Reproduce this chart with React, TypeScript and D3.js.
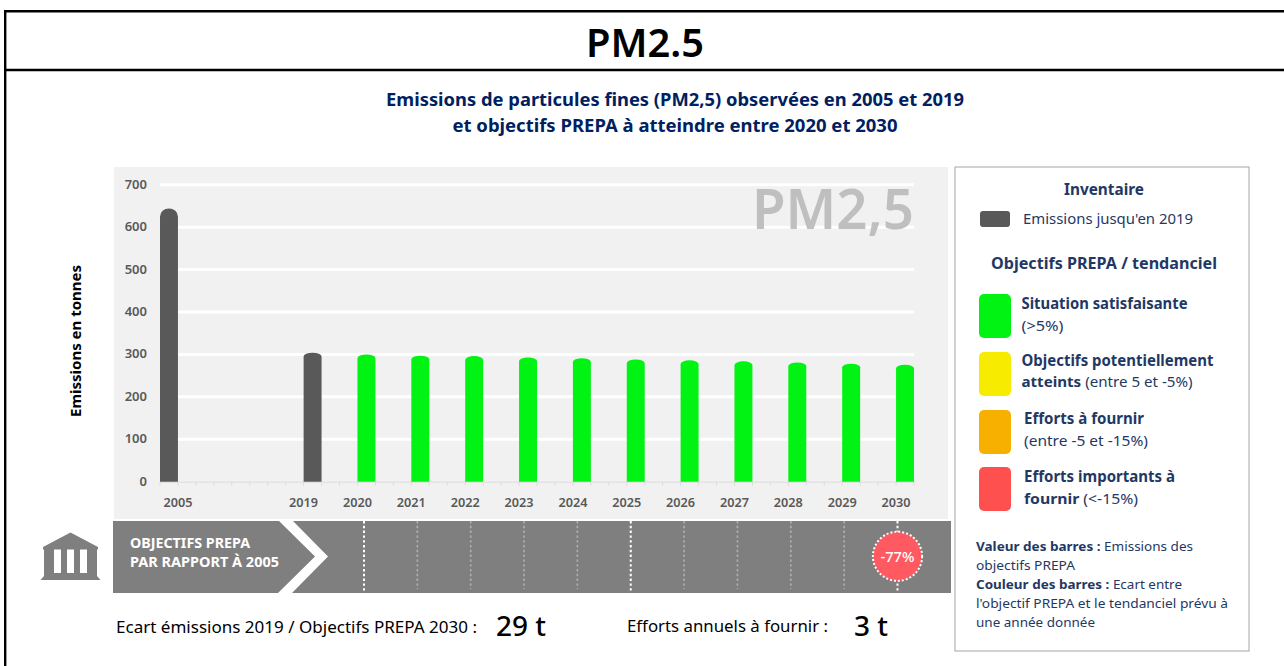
import React from 'react';
import * as d3 from 'd3';

const years = ['2005','2019','2020','2021','2022','2023','2024','2025','2026','2027','2028','2029','2030'];
const values = [644,304,300,297,296,293,291,288,286,283.6,281,278,275.6];
const barColors = ['#595959','#595959','#00f312','#00f312','#00f312','#00f312','#00f312','#00f312','#00f312','#00f312','#00f312','#00f312','#00f312'];
const slotsBefore = [0,7,2,2,2,2,2,2,2,2,2,2,2];
const yTicks = [0,100,200,300,400,500,600,700];
const ribbonYears = [2020,2021,2022,2023,2024,2025,2026,2027,2028,2029,2030];
const strongRibbonYears = [2020,2025,2030];
const NAVY = '#1f3864';
const FONT = '"Noto Sans", "Open Sans", sans-serif';

const legendSwatches = [
  { color:'#00f312', y:294 },
  { color:'#f7ec00', y:352 },
  { color:'#f8b000', y:410 },
  { color:'#ff5050', y:467 },
];

// Each year owns a band, and the years between them are empty slots.
const slotDomain: string[] = [];
years.forEach((yr, i) => {
  for (let k = 0; k < slotsBefore[i]; k++) slotDomain.push(`gap-${yr}-${k}`);
  slotDomain.push(yr);
});
const x = d3.scaleBand<string>().domain(slotDomain).range([160, 914]).padding(0);
const y = d3.scaleLinear().domain([0, 700]).range([481.7, 184.7]);
const ribbon = d3.scaleLinear().domain([2020, 2030]).range([364, 897.5]);

function barPath(yr: string, v: number) {
  const x0 = x(yr)!, w = x.bandwidth(), top = y(v), base = y(0);
  const ry = (base - top) * 0.03;
  return `M${x0},${base}V${top + ry}A${w / 2},${ry} 0 0 1 ${x0 + w},${top + ry}V${base}Z`;
}

const T = ({ x, y, s, b, c = NAVY, a = 'start', w, children }: any) => (
  <text x={x} y={y} fontSize={s} fontWeight={b === true ? 700 : b || 400} fill={c} textAnchor={a} textLength={w} lengthAdjust={w ? 'spacingAndGlyphs' : undefined}>{children}</text>
);

export default function App() {
  return (
    <svg width={1284} height={666} style={{ position: 'fixed', left: 0, top: 0, fontFamily: FONT, background: '#fff' }}>
      <path d="M5.2,666V11.3H1284" fill="none" stroke="#000" strokeWidth={2.4} />
      <line x1={5} x2={1284} y1={70} y2={70} stroke="#000" strokeWidth={2.4} />
      <T x={645} y={57} s={40} b={600} c="#000" a="middle" w={118}>PM2.5</T>
      <T x={675} y={106} s={18} b c="#002060" a="middle" w={578}>Emissions de particules fines (PM2,5) observées en 2005 et 2019</T>
      <T x={675} y={132} s={18} b c="#002060" a="middle" w={445}>et objectifs PREPA à atteindre entre 2020 et 2030</T>

      <rect x={114} y={167} width={834} height={352} fill="#f1f1f1" />
      {yTicks.filter(t => t > 0).map(t => (
        <line key={t} x1={160} x2={914} y1={y(t)} y2={y(t)} stroke="#fff" strokeWidth={3} />
      ))}
      <line x1={160} x2={914} y1={y(0) + 0.5} y2={y(0) + 0.5} stroke="#dcdcdc" strokeWidth={1} />
      {slotDomain.map(k => (
        <line key={k} x1={x(k)!} x2={x(k)!} y1={y(0)} y2={y(0) + 4} stroke="#dcdcdc" strokeWidth={1} />
      ))}
      <line x1={914} x2={914} y1={y(0)} y2={y(0) + 4} stroke="#dcdcdc" strokeWidth={1} />
      {yTicks.map(t => (
        <T key={t} x={147} y={y(t) + 4} s={13} b={600} c="#595959" a="end">{t}</T>
      ))}
      {years.map((yr, i) => (
        <g key={yr}>
          <path d={barPath(yr, values[i])} fill={barColors[i]} />
          <T x={x(yr)! + (i === 0 ? x.bandwidth() : 0)} y={506.5} s={13} b={600} c="#595959" a="middle" w={29}>{yr}</T>
        </g>
      ))}
      <T x={914} y={229} s={56} b={600} c="#bfbfbf" a="end" w={162}>PM2,5</T>
      <text transform="translate(81,341) rotate(-90)" fontSize={14} fontWeight={700} fill="#000" textAnchor="middle" textLength={152} lengthAdjust="spacingAndGlyphs">Emissions en tonnes</text>

      <rect x={113} y={521} width={838} height={72} fill="#7f7f7f" />
      <polygon points="279,521 293,521 328,556.5 292,593 278,593 315,556.5" fill="#fff" />
      <T x={130} y={548} s={14} b c="#fff" w={120}>OBJECTIFS PREPA</T>
      <T x={130} y={567} s={14} b c="#fff" w={149}>PAR RAPPORT À 2005</T>
      {ribbonYears.map(yr => {
        const strong = strongRibbonYears.includes(yr);
        return <line key={yr} x1={ribbon(yr)} x2={ribbon(yr)} y1={521} y2={strong ? 592 : 589} stroke={strong ? '#fff' : '#b0b0b0'} strokeWidth={strong ? 2 : 1.6} strokeDasharray="2.4 2.4" />;
      })}
      <circle cx={ribbon(2030)} cy={556.3} r={24.6} fill="#ff5a62" stroke="#fff" strokeWidth={2} strokeDasharray="2 2" />
      <T x={ribbon(2030)} y={561.5} s={15} b={500} c="#fff" a="middle" w={34}>-77%</T>

      <g fill="#7f7f7f">
        <polygon points="70.5,532.5 98,547 98,549.5 43,549.5 43,547" />
        <rect x={44} y={549} width={10} height={25} />
        <rect x={61} y={549} width={6} height={25} />
        <rect x={74} y={549} width={6} height={25} />
        <rect x={87} y={549} width={10} height={25} />
        <rect x={44} y={573} width={53} height={3.5} />
        <polygon points="44,576 97,576 100.5,580 40.5,580" />
      </g>

      <T x={116} y={633} s={17} c="#000" w={361}>Ecart émissions 2019 / Objectifs PREPA 2030 :</T>
      <T x={496} y={636} s={27} b={500} c="#000" w={50}>29 t</T>
      <T x={627} y={632} s={17} c="#000" w={201}>Efforts annuels à fournir :</T>
      <T x={854} y={636} s={27} b={500} c="#000" w={34}>3 t</T>

      <rect x={955} y={167} width={294} height={484} fill="#fff" stroke="#a6a6a6" strokeWidth={1} />
      <T x={1104} y={195} s={15.5} b a="middle" w={80}>Inventaire</T>
      <rect x={980} y={211} width={30} height={16} rx={3} fill="#595959" />
      <T x={1023} y={224} s={14.5} w={170}>Emissions jusqu'en 2019</T>
      <T x={1104} y={269} s={15.5} b a="middle" w={226}>Objectifs PREPA / tendanciel</T>
      {legendSwatches.map(d => (
        <rect key={d.y} x={979} y={d.y} width={32} height={44} rx={5} fill={d.color} />
      ))}
      <T x={1021.5} y={309} s={15.5} b w={166}>Situation satisfaisante</T>
      <T x={1021.5} y={331} s={14} w={42}>(&gt;5%)</T>
      <T x={1021.5} y={366} s={15.5} b w={192}>Objectifs potentiellement</T>
      <text x={1021.5} y={387} fontSize={14.5} fill={NAVY} textLength={171} lengthAdjust="spacingAndGlyphs"><tspan fontWeight={700}>atteints</tspan> (entre 5 et -5%)</text>
      <T x={1024} y={424} s={15.5} b w={120}>Efforts à fournir</T>
      <T x={1024} y={446} s={14.5} w={124}>(entre -5 et -15%)</T>
      <T x={1024} y={482} s={15.5} b w={151}>Efforts importants à</T>
      <text x={1024} y={504} fontSize={14.5} fill={NAVY} textLength={114} lengthAdjust="spacingAndGlyphs"><tspan fontWeight={700}>fournir</tspan> (&lt;-15%)</text>
      <text x={976} y={551} fontSize={13} fill={NAVY} textLength={217} lengthAdjust="spacingAndGlyphs"><tspan fontWeight={700}>Valeur des barres :</tspan> Emissions des</text>
      <T x={976} y={570} s={13} w={99}>objectifs PREPA</T>
      <text x={976} y={589} fontSize={13} fill={NAVY} textLength={206} lengthAdjust="spacingAndGlyphs"><tspan fontWeight={700}>Couleur des barres :</tspan> Ecart entre</text>
      <T x={976} y={608} s={13} w={252}>l'objectif PREPA et le tendanciel prévu à</T>
      <T x={976} y={627} s={13} w={119}>une année donnée</T>
    </svg>
  );
}
